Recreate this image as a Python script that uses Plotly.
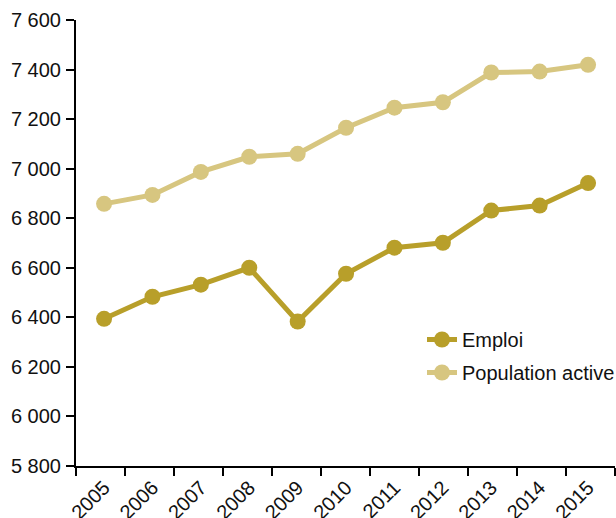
import plotly.graph_objects as go

years = ["2005", "2006", "2007", "2008", "2009", "2010",
         "2011", "2012", "2013", "2014", "2015"]
emploi = [6394, 6483, 6532, 6600, 6383, 6576, 6681, 6701, 6831, 6851, 6942]
population_active = [6858, 6894, 6987, 7048, 7060, 7165, 7246, 7268, 7388, 7392, 7419]

y_ticks = [5800, 6000, 6200, 6400, 6600, 6800, 7000, 7200, 7400, 7600]

col_emploi = "#B89F2A"
col_pop = "#D7C680"

idx = list(range(len(years)))

# category boundaries, slightly wider than point spacing
x0 = -0.58
step = 1.0124
bounds = [x0 + k * step for k in range(len(years) + 1)]

fig = go.Figure()
fig.add_trace(go.Scatter(
    x=idx, y=emploi, name="Emploi", mode="lines+markers",
    line=dict(color=col_emploi, width=5),
    marker=dict(color=col_emploi, size=16),
    legendgroup="a",
))
fig.add_trace(go.Scatter(
    x=idx, y=population_active, name="Population active", mode="lines+markers",
    line=dict(color=col_pop, width=5),
    marker=dict(color=col_pop, size=16),
    legendgroup="b",
))

fig.update_layout(
    width=616, height=518,
    margin=dict(l=76, r=1, t=20, b=52, autoexpand=False),
    plot_bgcolor="white", paper_bgcolor="white",
    separators=", ",
    font=dict(family="Liberation Sans, Arial, sans-serif", size=20, color="#111111"),
    showlegend=True,
    legend=dict(
        x=(422 - 76) / 539, y=(466 - 320) / 446,
        xanchor="left", yanchor="top",
        bgcolor="rgba(0,0,0,0)",
        font=dict(family="Liberation Sans, Arial, sans-serif", size=20, color="#111111"),
        tracegroupgap=4,
        itemwidth=30,
    ),
)

fig.update_xaxes(
    range=[bounds[0], bounds[-1]],
    tickmode="array", tickvals=idx, ticktext=years,
    tickangle=-45, ticks="",
    tickfont=dict(size=20),
    automargin=False,
    showline=True, linecolor="black", linewidth=2,
    showgrid=False, zeroline=False,
    minor=dict(tickmode="array", tickvals=bounds, ticks="outside",
               ticklen=8, tickwidth=2, tickcolor="black", showgrid=False),
)
fig.update_yaxes(
    range=[5800, 7600],
    tickmode="array", tickvals=y_ticks, tickformat=",d",
    ticks="outside", ticklen=8, tickwidth=2, tickcolor="black",
    ticklabelstandoff=1,
    automargin=False,
    showline=True, linecolor="black", linewidth=2,
    showgrid=False, zeroline=False,
)

fig.write_html("out.html")
